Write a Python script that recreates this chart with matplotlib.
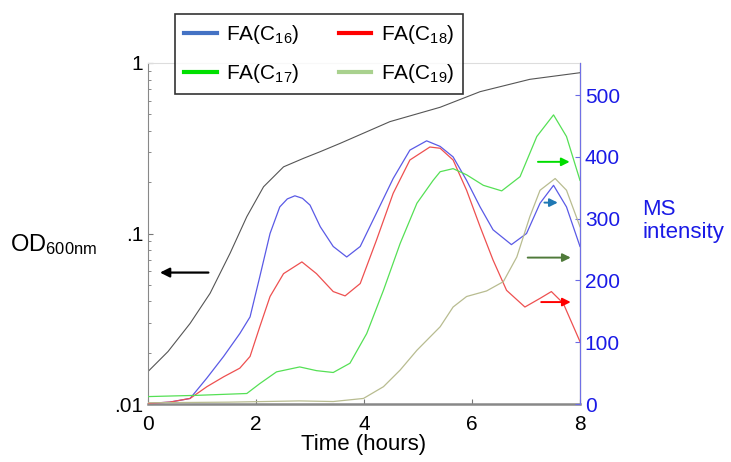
import matplotlib.pyplot as plt
from matplotlib.lines import Line2D

plt.rcParams['font.family'] = ['Liberation Sans', 'DejaVu Sans']
plt.rcParams['mathtext.fontset'] = 'custom'
plt.rcParams['mathtext.rm'] = 'Liberation Sans'
plt.rcParams['mathtext.it'] = 'Liberation Sans:italic'

# OD600 growth curve (left, log axis)
t_od = [0, 0.37, 0.78, 1.15, 1.52, 1.83, 2.14, 2.51, 2.88, 3.19, 3.56, 4.48, 5.41, 6.15, 7.07, 8.0]
od = [0.0155, 0.0203, 0.0297, 0.0446, 0.0766, 0.1256, 0.188, 0.246, 0.276, 0.302, 0.338, 0.453,
      0.55, 0.679, 0.802, 0.877]

# MS intensity curves (right axis)
t_c16 = [0, 0.4, 0.78, 1.09, 1.4, 1.7, 1.89, 2.07, 2.26, 2.44, 2.58, 2.72, 2.86, 3.0, 3.19, 3.43,
         3.68, 3.93, 4.23, 4.54, 4.85, 5.16, 5.41, 5.65, 5.9, 6.15, 6.39, 6.73, 7.01, 7.26, 7.51,
         7.75, 8.0]
c16 = [1, 3, 9, 42, 77, 114, 141, 206, 276, 319, 332, 337, 333, 322, 287, 255,
       238, 255, 309, 365, 411, 426, 417, 400, 362, 319, 282, 258, 276, 325, 354,
       319, 255]

t_c18 = [0, 0.4, 0.78, 1.09, 1.4, 1.7, 1.89, 2.07, 2.26, 2.51, 2.85, 3.12, 3.43, 3.65, 3.93,
         4.23, 4.54, 4.85, 5.22, 5.41, 5.65, 5.9, 6.15, 6.39, 6.64, 6.98, 7.26, 7.47, 7.69,
         7.88, 8.0]
c18 = [1, 3, 9, 28, 44, 58, 77, 125, 174, 211, 230, 211, 182, 175, 195,
       265, 341, 395, 416, 414, 395, 346, 287, 233, 184, 157, 171, 182, 163,
       125, 101]

t_c17 = [0, 0.9, 1.83, 2.07, 2.38, 2.81, 3.12, 3.43, 3.74, 4.05, 4.36, 4.67, 4.98, 5.28, 5.41,
         5.65, 5.9, 6.21, 6.55, 6.89, 7.2, 7.51, 7.75, 8.0]
c17 = [12, 14, 17, 33, 52, 60, 54, 51, 66, 114, 184, 260, 325, 362, 376,
       381, 371, 354, 345, 368, 433, 468, 433, 362]

t_c19 = [0, 1.5, 2.8, 3.43, 3.99, 4.36, 4.67, 4.98, 5.41, 5.65, 5.9, 6.27, 6.58, 6.83, 7.07,
         7.26, 7.54, 7.75, 8.0]
c19 = [2, 3, 5, 4, 9, 28, 55, 87, 125, 157, 174, 183, 198, 238, 303,
       346, 365, 346, 287]

labels = ['FA(C$_{16}$)', 'FA(C$_{18}$)', 'FA(C$_{17}$)', 'FA(C$_{19}$)']
legend_colors = ['#4472c4', '#ff0000', '#00e000', '#a9d18e']

fig = plt.figure(figsize=(7.31, 4.62), dpi=100)
ax = fig.add_axes([148 / 731, 58 / 462, 432 / 731, 341 / 462])
ax2 = ax.twinx()

ax.plot(t_od, od, color='#555555', lw=0.8)
ax.set_yscale('log')
ax.set_ylim(0.01, 1)
ax.set_xlim(0, 8)
ax.set_xticks([0, 2, 4, 6, 8])
ax.set_yticks([0.01, 0.1, 1])
ax.set_yticklabels(['.01', '.1', '1'])
ax.tick_params(axis='both', which='both', direction='in', labelsize=15, color='#777777')
ax.tick_params(axis='x', pad=8)
ax.set_xlabel('Time (hours)', fontsize=16, labelpad=0)
for s in ['left', 'bottom']:
    ax.spines[s].set_color('#888888')
ax.spines['bottom'].set_linewidth(1.8)
ax.spines['top'].set_color('#dddddd')

ax2.plot(t_c16, c16, color='#5a5ae6', lw=0.9)
ax2.plot(t_c18, c18, color='#ee5050', lw=0.9)
ax2.plot(t_c17, c17, color='#55e055', lw=0.9)
ax2.plot(t_c19, c19, color='#b8bc90', lw=0.9)
ax2.set_ylim(0, 552)
ax2.set_yticks([0, 100, 200, 300, 400, 500])
ax2.tick_params(axis='y', direction='in', labelsize=15, colors='#1a1ae6', color='#6a6ae6')
ax2.spines['right'].set_color('#7070e6')
ax2.spines['top'].set_visible(False)
ax2.spines['left'].set_visible(False)
ax2.spines['bottom'].set_visible(False)

# arrows
ax.annotate('', xy=(0.17, 0.059), xytext=(1.17, 0.059),
            arrowprops=dict(arrowstyle='-|>', color='black', lw=1.6, mutation_scale=14))
arrows = [(7.17, 7.86, 392, '#00dd00'), (7.29, 7.64, 326, '#1f78b4'),
          (6.98, 7.88, 237, '#4f7a3a'), (7.23, 7.88, 165, '#ff0000')]
for x0, x1, y, c in arrows:
    ax2.annotate('', xy=(x1, y), xytext=(x0, y),
                 arrowprops=dict(arrowstyle='-|>', color=c, lw=1.4, mutation_scale=12))

fig.text(10 / 731, 1 - 245 / 462, 'OD$_{\\mathrm{600nm}}$', fontsize=17, va='center', ha='left')
fig.text(642 / 731, 1 - 221 / 462, 'MS\nintensity', fontsize=16, va='center', ha='left',
         color='#1a1ae6', linespacing=1.15)

handles = [Line2D([], [], color=c, lw=3) for c in legend_colors]
order = [0, 2, 1, 3]
leg = ax.legend([handles[i] for i in order], [labels[i] for i in order], ncol=2,
                loc='upper left', bbox_to_anchor=(175 / 731, 1 - 14 / 462),
                bbox_transform=fig.transFigure, fontsize=15, frameon=True, fancybox=False,
                edgecolor='black', handlelength=1.55, handletextpad=0.45, columnspacing=1.9,
                labelspacing=0.75, borderpad=0.45, borderaxespad=0)
leg.get_frame().set_linewidth(1.2)
leg.set_zorder(10)

fig.savefig('out.png', dpi=100)
